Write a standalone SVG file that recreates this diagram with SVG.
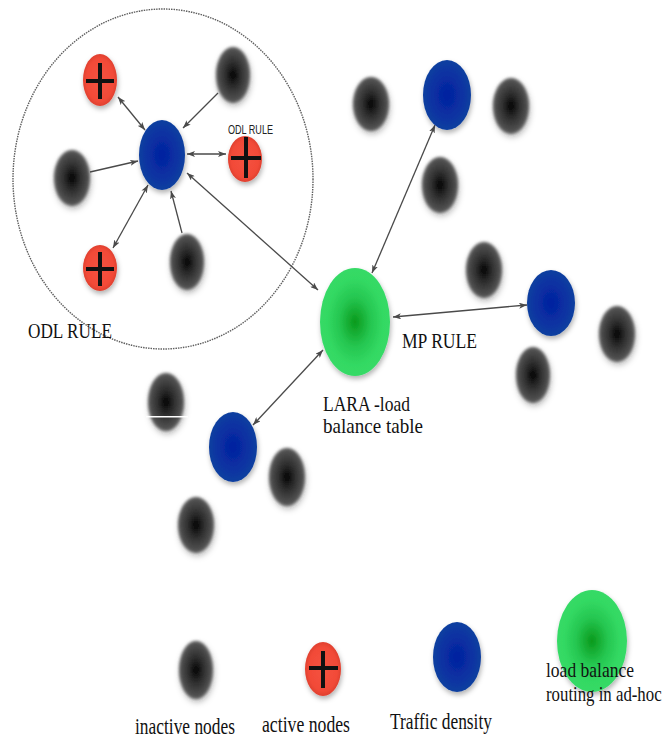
<svg xmlns="http://www.w3.org/2000/svg" width="666" height="740" viewBox="0 0 666 740">
<style>
.blk{fill:url(#gBlk);filter:url(#fBlk)}
.red{fill:url(#gRed);filter:url(#fSoft)}
.blu{fill:url(#gBlu);filter:url(#fSoft)}
.grn{fill:url(#gGrn);filter:url(#fSoft)}
.plus{stroke:#111;stroke-width:4;stroke-linecap:butt;fill:none}
.lbl{font-family:"Liberation Serif","Times New Roman",serif;fill:#111}
.sml{font-family:"Liberation Sans",Arial,sans-serif;fill:#222}
.cn{stroke:#4a4a4a;stroke-width:1.3;fill:none}
.two{marker-start:url(#aS);marker-end:url(#aE)}
.one{marker-end:url(#aE)}
</style>
<defs>
<radialGradient id="gBlk" cx="50%" cy="50%" r="50%">
<stop offset="0" stop-color="#000"/>
<stop offset="0.35" stop-color="#262626"/>
<stop offset="0.75" stop-color="#454545"/>
<stop offset="1" stop-color="#5a5a5a"/>
</radialGradient>
<radialGradient id="gRed" cx="50%" cy="50%" r="50%">
<stop offset="0" stop-color="#f4533f"/>
<stop offset="0.8" stop-color="#f24a38"/>
<stop offset="1" stop-color="#e0402f"/>
</radialGradient>
<radialGradient id="gBlu" cx="50%" cy="50%" r="50%">
<stop offset="0" stop-color="#0320a0"/>
<stop offset="0.7" stop-color="#0a34a2"/>
<stop offset="1" stop-color="#10409f"/>
</radialGradient>
<radialGradient id="gGrn" cx="50%" cy="50%" r="50%">
<stop offset="0" stop-color="#0a9a1c"/>
<stop offset="0.45" stop-color="#25c650"/>
<stop offset="0.8" stop-color="#33d963"/>
<stop offset="1" stop-color="#36da66"/>
</radialGradient>
<filter id="fBlk" x="-40%" y="-40%" width="180%" height="180%">
<feGaussianBlur in="SourceAlpha" stdDeviation="3" result="sh"/>
<feOffset in="sh" dx="1" dy="3" result="so"/>
<feFlood flood-color="#000" flood-opacity="0.3"/>
<feComposite in2="so" operator="in" result="shadow"/>
<feGaussianBlur in="SourceGraphic" stdDeviation="1.6" result="g"/>
<feMerge><feMergeNode in="shadow"/><feMergeNode in="g"/></feMerge>
</filter>
<filter id="fSoft" x="-30%" y="-30%" width="160%" height="160%">
<feGaussianBlur in="SourceAlpha" stdDeviation="2.5" result="sh"/>
<feOffset in="sh" dx="1" dy="3" result="so"/>
<feFlood flood-color="#000" flood-opacity="0.3"/>
<feComposite in2="so" operator="in" result="shadow"/>
<feGaussianBlur in="SourceGraphic" stdDeviation="0.7" result="g"/>
<feMerge><feMergeNode in="shadow"/><feMergeNode in="g"/></feMerge>
</filter>
<marker id="aE" viewBox="0 0 8 6" refX="8" refY="3" markerWidth="8" markerHeight="6" markerUnits="userSpaceOnUse" orient="auto">
<path d="M0,0 L8,3 L0,6 L2,3 Z" fill="#4a4a4a"/>
</marker>
<marker id="aS" viewBox="0 0 8 6" refX="0" refY="3" markerWidth="8" markerHeight="6" markerUnits="userSpaceOnUse" orient="auto">
<path d="M8,0 L0,3 L8,6 L6,3 Z" fill="#4a4a4a"/>
</marker>
</defs>
<rect width="666" height="740" fill="#fff"/>

<g id="odl-region">
<ellipse cx="163" cy="179" rx="150" ry="170" fill="none" stroke="#5e5e5e" stroke-width="1.4" stroke-dasharray="1.5 1"/>
<text class="lbl" x="28" y="338" font-size="22" textLength="84" lengthAdjust="spacingAndGlyphs">ODL RULE</text>
</g>

<g id="connectors">
<line class="cn two" x1="118" y1="97" x2="145" y2="130"/>
<line class="cn one" x1="218" y1="93" x2="183" y2="128"/>
<line class="cn one" x1="90" y1="172" x2="138" y2="161"/>
<line class="cn two" x1="187" y1="154" x2="226" y2="154"/>
<line class="cn two" x1="148" y1="185" x2="113" y2="248"/>
<line class="cn one" x1="182" y1="233" x2="171" y2="191"/>
<line class="cn two" x1="187" y1="173" x2="318" y2="290"/>
<line class="cn two" x1="372" y1="273" x2="435" y2="125"/>
<line class="cn two" x1="393" y1="317" x2="527" y2="305"/>
<line class="cn two" x1="323" y1="350" x2="253" y2="425"/>
</g>

<g id="red-tl"><ellipse class="red" cx="100" cy="80" rx="17" ry="26"/><path class="plus" d="M86,81 H114 M100,63 V99"/></g>
<g id="blk-tr"><ellipse class="blk" cx="233" cy="75" rx="17" ry="28"/></g>
<g id="blue-hub"><ellipse class="blu" cx="162" cy="155" rx="23" ry="35"/></g>
<g id="red-r"><ellipse class="red" cx="245" cy="159" rx="17" ry="23"/><path class="plus" d="M231,158 H261 M246,137 V178"/>
<text class="sml" x="228" y="134" font-size="13" textLength="45" lengthAdjust="spacingAndGlyphs">ODL RULE</text></g>
<g id="blk-l"><ellipse class="blk" cx="72" cy="178" rx="18" ry="28"/></g>
<g id="red-bl"><ellipse class="red" cx="100" cy="268" rx="17" ry="23"/><path class="plus" d="M86,269 H114 M100,252 V286"/></g>
<g id="blk-b"><ellipse class="blk" cx="187" cy="262" rx="17" ry="28"/></g>

<g id="lara"><ellipse class="grn" cx="355" cy="322" rx="35" ry="54"/>
<text class="lbl" x="323" y="411" font-size="21" textLength="87" lengthAdjust="spacingAndGlyphs">LARA -load</text>
<text class="lbl" x="323" y="433" font-size="21" textLength="100" lengthAdjust="spacingAndGlyphs">balance table</text></g>
<text class="lbl" x="402" y="348" font-size="22" textLength="75" lengthAdjust="spacingAndGlyphs">MP RULE</text>

<g id="blk-t1"><ellipse class="blk" cx="371" cy="104" rx="18" ry="27"/></g>
<g id="blue-top"><ellipse class="blu" cx="447" cy="95" rx="24" ry="35"/></g>
<g id="blk-t2"><ellipse class="blk" cx="511" cy="106" rx="18" ry="28"/></g>
<g id="blk-t3"><ellipse class="blk" cx="440" cy="185" rx="18" ry="28"/></g>
<g id="blk-m"><ellipse class="blk" cx="484" cy="270" rx="18" ry="28"/></g>
<g id="blue-right"><ellipse class="blu" cx="551" cy="303" rx="24" ry="33"/></g>
<g id="blk-fr"><ellipse class="blk" cx="617" cy="334" rx="18" ry="28"/></g>
<g id="blk-br"><ellipse class="blk" cx="533" cy="375" rx="17" ry="28"/></g>

<g id="blk-ll"><ellipse class="blk" cx="166" cy="402" rx="18" ry="29"/><rect x="146" y="416" width="42" height="1.5" fill="#fff"/></g>
<g id="blue-bottom"><ellipse class="blu" cx="233" cy="447" rx="24" ry="35"/></g>
<g id="blk-lr"><ellipse class="blk" cx="287" cy="477" rx="18" ry="29"/></g>
<g id="blk-lb"><ellipse class="blk" cx="196" cy="525" rx="18" ry="28"/></g>

<g id="legend-inactive"><ellipse class="blk" cx="196" cy="670" rx="17" ry="29"/>
<text class="lbl" x="135" y="734" font-size="23" textLength="100" lengthAdjust="spacingAndGlyphs">inactive nodes</text></g>
<g id="legend-active"><ellipse class="red" cx="323" cy="669" rx="18" ry="27"/><path class="plus" d="M309,668 H338 M323,651 V688"/>
<text class="lbl" x="262" y="732" font-size="23" textLength="88" lengthAdjust="spacingAndGlyphs">active nodes</text></g>
<g id="legend-traffic"><ellipse class="blu" cx="457" cy="657" rx="24" ry="35"/>
<text class="lbl" x="390" y="729" font-size="23" textLength="102" lengthAdjust="spacingAndGlyphs">Traffic density</text></g>
<g id="legend-lara"><ellipse class="grn" cx="592" cy="641" rx="35" ry="51"/>
<text class="lbl" x="546" y="677" font-size="21" textLength="88" lengthAdjust="spacingAndGlyphs">load balance</text>
<text class="lbl" transform="translate(546,701) scale(0.8,1)" x="0" y="0" font-size="21">routing in ad-hoc</text></g>
</svg>
